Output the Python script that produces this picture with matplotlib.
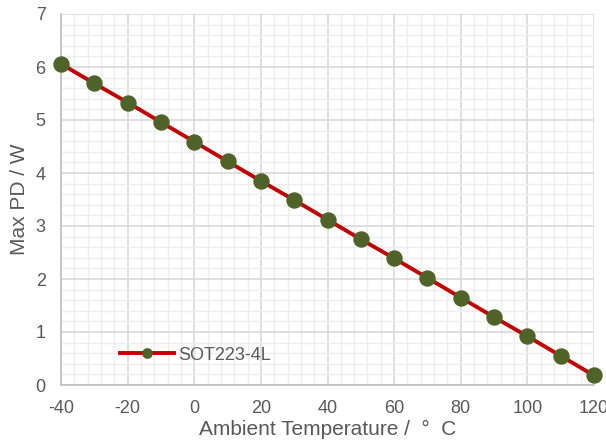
import matplotlib
matplotlib.use("Agg")
import matplotlib.pyplot as plt
from matplotlib.ticker import MultipleLocator

temps = [-40, -30, -20, -10, 0, 10, 20, 30, 40, 50, 60, 70, 80, 90, 100, 110, 120]
max_pd = [6.06, 5.69, 5.33, 4.96, 4.59, 4.22, 3.85, 3.49, 3.12, 2.75, 2.39, 2.02, 1.65, 1.28, 0.92, 0.55, 0.18]
series_name = "SOT223-4L"
x_label = "Ambient Temperature /  \u00b0  C"
y_label = "Max PD / W"

plt.rcParams['font.family'] = ['Liberation Sans', 'DejaVu Sans']
plt.rcParams['axes.unicode_minus'] = False
text_color = '#595959'

fig = plt.figure(figsize=(6.06, 4.43), dpi=100)
ax = fig.add_axes([61/606, 1-385/443, (594-61)/606, (385-14)/443])

ax.plot(temps, max_pd, color='#C00000', lw=2.8, marker='o', markersize=10.8,
        markerfacecolor='#4F6228', markeredgecolor='#4F6228', clip_on=False,
        label=series_name, zorder=3)

ax.set_xlim(-40, 120)
ax.set_ylim(0, 7)
ax.xaxis.set_major_locator(MultipleLocator(20))
ax.xaxis.set_minor_locator(MultipleLocator(4))
ax.yaxis.set_major_locator(MultipleLocator(1))
ax.yaxis.set_minor_locator(MultipleLocator(0.2))
ax.grid(which='major', color='#d9d9d9', lw=1.2)
ax.grid(which='minor', color='#eeeeee', lw=1.0)
ax.set_axisbelow(True)

for s in ['top', 'right']:
    ax.spines[s].set_visible(False)
for s in ['left', 'bottom']:
    ax.spines[s].set_color('#bfbfbf')
    ax.spines[s].set_linewidth(1.2)

ax.tick_params(which='both', length=0, colors=text_color, labelsize=13)
ax.tick_params(axis='x', pad=11)
ax.tick_params(axis='y', pad=11)

ax.set_xlabel(x_label, color=text_color, fontsize=15, labelpad=2)
ax.set_ylabel(y_label, color=text_color, fontsize=15, labelpad=5)

leg = ax.legend(loc='center left', bbox_to_anchor=((120-61)/533, (385-355)/371),
                frameon=False, borderpad=0, borderaxespad=0,
                fontsize=13, handlelength=3.0, handletextpad=0.22,
                markerscale=0.62, labelcolor=text_color)

fig.savefig('out.png', dpi=100)
